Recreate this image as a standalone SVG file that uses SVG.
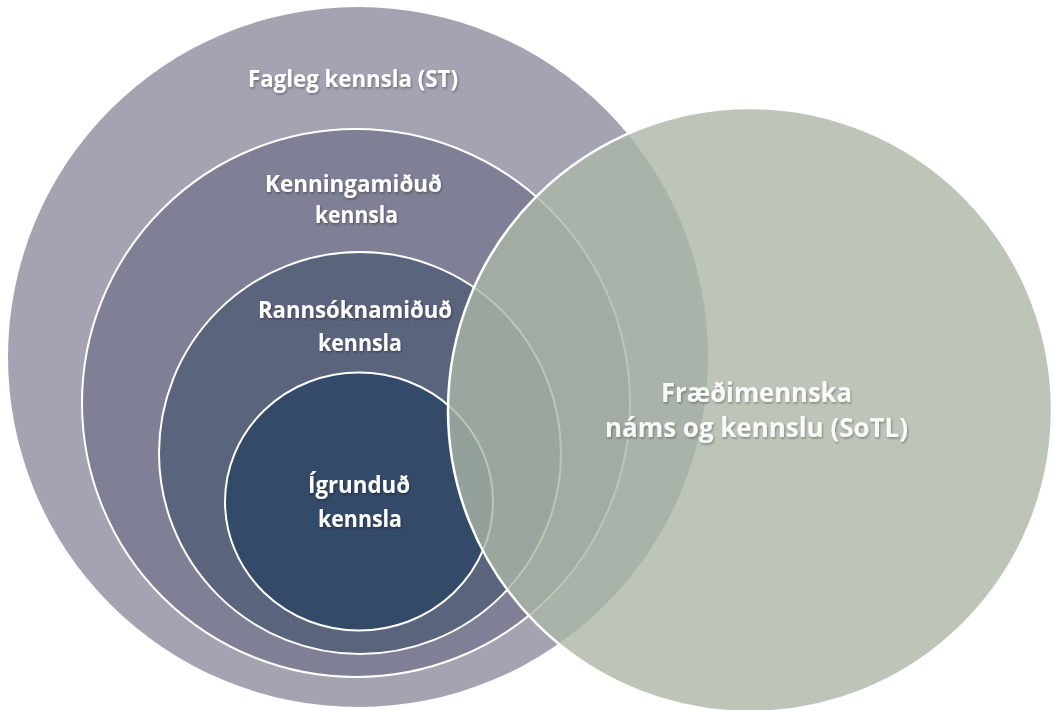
<svg xmlns="http://www.w3.org/2000/svg" width="1054" height="710" viewBox="0 0 1054 710">
  <defs>
    <filter id="shadow" x="-10%" y="-30%" width="120%" height="160%">
      <feDropShadow dx="1" dy="1.5" stdDeviation="1.2" flood-color="#000" flood-opacity="0.35"/>
    </filter>
    <style>
      .ring { stroke: #ffffff; stroke-width: 2; }
      .lbl { font-family: "Open Sans", "Noto Sans", "Liberation Sans", sans-serif; font-weight: 700; fill: #ffffff; text-anchor: middle; filter: url(#shadow); }
      .s { font-size: 23px; }
      .b { font-size: 26px; fill-opacity: 0.92; }
    </style>
  </defs>
  <rect width="1054" height="710" fill="#ffffff"/>
  <g id="fagleg">
    <circle cx="358" cy="357" r="350" fill="#a4a3b2"/>
  </g>
  <g id="kenningamidud">
    <circle class="ring" cx="356" cy="403" r="274" fill="#7f8095"/>
  </g>
  <g id="rannsoknamidud">
    <circle class="ring" cx="360" cy="453" r="201" fill="#5b647d"/>
  </g>
  <g id="igrundud">
    <ellipse class="ring" cx="359" cy="501.5" rx="134" ry="129" fill="#344a69"/>
  </g>
  <g id="sotl">
    <circle cx="750" cy="410" r="302" fill="#abb7a6" fill-opacity="0.8" stroke="#ffffff" stroke-width="2.5"/>
  </g>
  <g id="connectors"></g>
  <g id="labels">
    <text class="lbl s" x="353" y="87" textLength="210" lengthAdjust="spacingAndGlyphs">Fagleg kennsla (ST)</text>
    <text class="lbl s" x="353.5" y="192" textLength="177" lengthAdjust="spacingAndGlyphs">Kenningamiðuð</text>
    <text class="lbl s" x="356.5" y="223" textLength="83" lengthAdjust="spacingAndGlyphs">kennsla</text>
    <text class="lbl s" x="355" y="318" textLength="194" lengthAdjust="spacingAndGlyphs">Rannsóknamiðuð</text>
    <text class="lbl s" x="360" y="351" textLength="84" lengthAdjust="spacingAndGlyphs">kennsla</text>
    <text class="lbl s" x="359" y="493" textLength="102" lengthAdjust="spacingAndGlyphs">Ígrunduð</text>
    <text class="lbl s" x="360" y="527" textLength="84" lengthAdjust="spacingAndGlyphs">kennsla</text>
    <text class="lbl b" x="756.5" y="402" textLength="191" lengthAdjust="spacingAndGlyphs">Fræðimennska</text>
    <text class="lbl b" x="756.5" y="437" textLength="303" lengthAdjust="spacingAndGlyphs">náms og kennslu (SoTL)</text>
  </g>
</svg>
